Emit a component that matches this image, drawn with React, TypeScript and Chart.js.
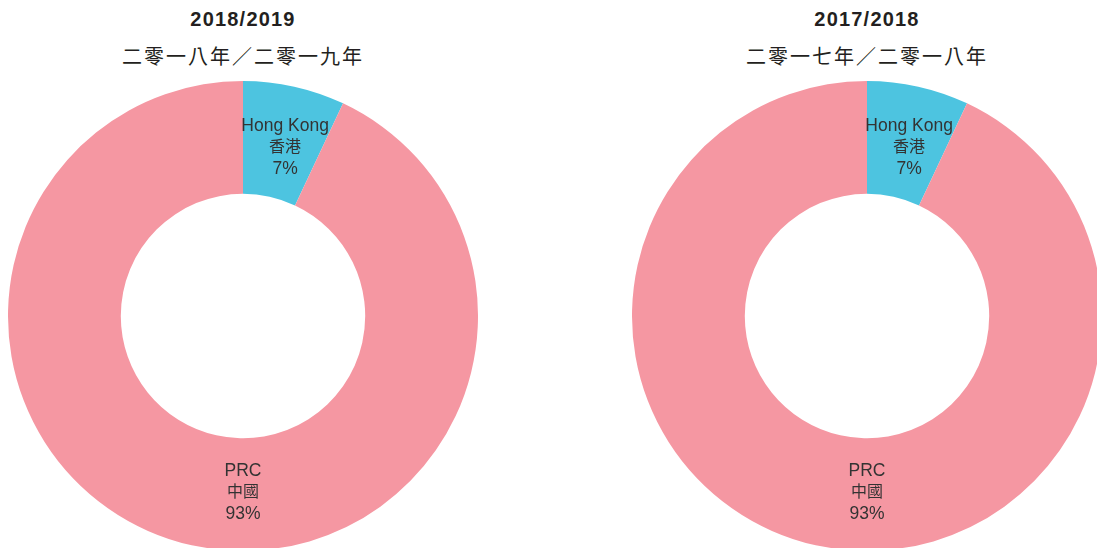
import React, { useEffect, useRef } from "react";
import { Chart, registerables } from "chart.js";

Chart.register(...registerables);

const categoriesEn = ["Hong Kong", "PRC"];
const categoriesZh = ["香港", "中國"];
const values2019 = [7, 93];
const values2018 = [7, 93];
const titles = ["2018/2019", "2017/2018"];
const subtitles = ["二零一八年／二零一九年", "二零一七年／二零一八年"];
const sliceColors = ["#4DC4E0", "#F597A2"];

const R = 235;
const CX = [243, 867];
const CY = 316;

const labelPlugin = {
  id: "sliceLabels",
  afterDatasetsDraw(chart: any) {
    const ctx = chart.ctx;
    const meta = chart.getDatasetMeta(0);
    const data = chart.data.datasets[0].data;
    ctx.save();
    ctx.fillStyle = "#333333";
    ctx.textAlign = "center";
    ctx.textBaseline = "alphabetic";
    meta.data.forEach((arc: any, i: number) => {
      const p = arc.getProps(["x", "y", "startAngle", "endAngle", "innerRadius", "outerRadius"], true);
      const span = p.endAngle - p.startAngle;
      const big = span > Math.PI;
      const ang = big ? Math.PI / 2 : (p.startAngle + p.endAngle) / 2;
      const r = (p.innerRadius + p.outerRadius) / 2 - 4;
      const x = p.x + Math.cos(ang) * r + (big ? 0 : 4);
      const y = p.y + Math.sin(ang) * r;
      const lines = [categoriesEn[i], categoriesZh[i], data[i] + "%"];
      const lh = 21.5;
      lines.forEach((t, k) => {
        if (k === 1) ctx.font = '16px "Noto Sans CJK TC", sans-serif';
        else ctx.font = '17.5px "Liberation Sans", Arial, sans-serif';
        // baseline offset so glyph centres sit on the line centre
        const base = k === 1 ? 6 : 6.5;
        ctx.fillText(t, x, y + (k - 1) * lh + base);
      });
    });
    ctx.restore();
  },
};

function Donut({ values, idx }: { values: number[]; idx: number }) {
  const ref = useRef<HTMLCanvasElement>(null);
  useEffect(() => {
    if (!ref.current) return;
    const chart = new Chart(ref.current, {
      type: "doughnut",
      data: {
        labels: categoriesEn,
        datasets: [
          {
            data: values,
            backgroundColor: sliceColors,
            borderWidth: 0,
            hoverBorderWidth: 0,
          },
        ],
      },
      options: {
        responsive: false,
        animation: false,
        cutout: "52%",
        layout: { padding: 0 },
        plugins: {
          legend: { display: false },
          tooltip: { enabled: false },
          title: { display: false },
        },
        events: [],
      },
      plugins: [labelPlugin],
    });
    return () => chart.destroy();
  }, [values]);
  return (
    <canvas
      ref={ref}
      width={2 * R}
      height={2 * R}
      style={{
        position: "absolute",
        left: CX[idx] - R,
        top: CY - R,
        width: 2 * R,
        height: 2 * R,
      }}
    />
  );
}

function Heading({ idx }: { idx: number }) {
  return (
    <>
      <div
        style={{
          position: "absolute",
          left: CX[idx] - 200,
          width: 400,
          top: 6,
          textAlign: "center",
          font: 'bold 20px "Liberation Sans", Arial, sans-serif',
          letterSpacing: "1.2px",
          color: "#231F20",
          lineHeight: "26px",
        }}
      >
        {titles[idx]}
      </div>
      <div
        style={{
          position: "absolute",
          left: CX[idx] - 200,
          width: 400,
          top: 41,
          textAlign: "center",
          font: '20px "Noto Sans CJK TC", sans-serif',
          letterSpacing: "2px",
          color: "#231F20",
          lineHeight: "30px",
        }}
      >
        {subtitles[idx]}
      </div>
    </>
  );
}

export default function App() {
  return (
    <div
      style={{
        position: "fixed",
        left: 0,
        top: 0,
        width: 1097,
        height: 548,
        overflow: "hidden",
        background: "#ffffff",
      }}
    >
      <Heading idx={0} />
      <Heading idx={1} />
      <Donut values={values2019} idx={0} />
      <Donut values={values2018} idx={1} />
    </div>
  );
}
